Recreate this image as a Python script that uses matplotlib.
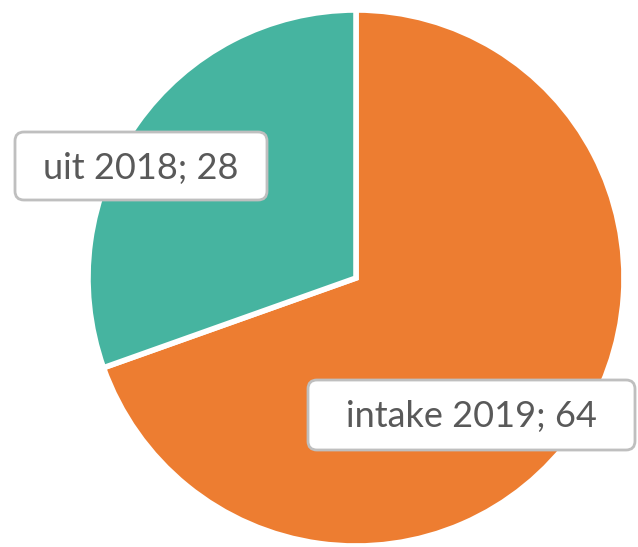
import matplotlib
matplotlib.use("Agg")
import matplotlib.pyplot as plt
from matplotlib.patches import FancyBboxPatch

categories = ["intake 2019", "uit 2018"]
values = [64, 28]
colors = ["#ED7D31", "#46B4A0"]

W, H = 638, 547
fig = plt.figure(figsize=(W / 100, H / 100), dpi=100)
cx, cy, r = 356, 278, 268
ax = fig.add_axes([(cx - r) / W, (H - cy - r) / H, 2 * r / W, 2 * r / H])

wedges, _ = ax.pie(values, colors=colors, startangle=90, counterclock=False,
                   radius=1, center=(0, 0),
                   wedgeprops=dict(edgecolor="white", linewidth=4))
ax.set_xlim(-1, 1)
ax.set_ylim(-1, 1)
ax.set_aspect("equal")
ax.axis("off")

def px2d(px, py):
    return (px - cx) / r, (cy - py) / r

# callout boxes in pixel extents (left, top, right, bottom)
boxes = [(308, 380, 635, 450), (15, 132, 267, 200)]
for cat, val, (l, t, rr, b) in zip(categories, values, boxes):
    x0, y1 = px2d(l, t)
    x1, y0 = px2d(rr, b)
    rad = 9 / r
    patch = FancyBboxPatch((x0 + rad, y0 + rad), (x1 - x0) - 2 * rad, (y1 - y0) - 2 * rad,
                           boxstyle=f"round,pad={rad},rounding_size={rad}",
                           facecolor="white", edgecolor="#BFBFBF", linewidth=2,
                           clip_on=False, zorder=3)
    ax.add_patch(patch)
    ax.text((x0 + x1) / 2, (y0 + y1) / 2 - 2 / r, f"{cat}; {val}", ha="center", va="center",
            fontsize=26, family=["Lato", "DejaVu Sans"], color="#595959",
            clip_on=False, zorder=4)

fig.savefig("out.png", dpi=100)
